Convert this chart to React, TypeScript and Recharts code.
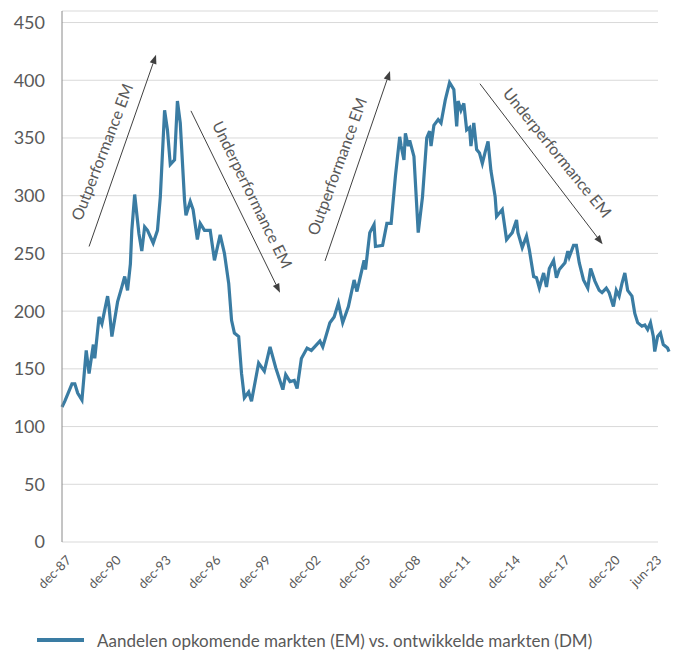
import React from 'react';
import { LineChart, Line, XAxis, YAxis, CartesianGrid, ReferenceLine, ReferenceDot } from 'recharts';

// Month index counted from dec-87 (0) to jun-23 (426)
const months = [
  0, 2, 7, 9, 11, 14, 17, 19, 22, 23, 26, 28, 29, 32, 33, 35, 39, 42, 44, 46,
  48, 49, 51, 54, 56, 58, 60, 64, 67, 69, 72, 74, 76, 79, 81, 83, 86, 87, 90, 92,
  95, 97, 100, 104, 107, 111, 114, 117, 119, 121, 124, 126, 128, 131, 133, 138, 142, 146, 150, 155,
  157, 160, 163, 165, 168, 172, 175, 181, 183, 188, 191, 194, 197, 201, 205, 207, 212, 213, 216, 219,
  220, 225, 228, 231, 234, 237, 238, 240, 241, 243, 244, 247, 250, 253, 256, 258, 259, 261, 264, 266,
  269, 272, 275, 277, 278, 280, 282, 284, 286, 287, 289, 291, 293, 295, 297, 299, 301, 304, 305, 309,
  312, 316, 319, 320, 323, 326, 328, 331, 333, 335, 338, 340, 342, 345, 347, 349, 353, 355, 356, 359,
  361, 363, 366, 369, 371, 374, 377, 379, 382, 384, 387, 389, 391, 393, 395, 397, 400, 402, 404, 407,
  409, 411, 413, 415, 416, 418, 420, 422, 425, 426,
];

const emVsDm = [
  117, 122, 137, 137, 129, 123, 166, 146, 171, 159, 195, 189, 195, 213, 204, 178, 208, 221, 230, 218,
  241, 270, 301, 267, 252, 273, 270, 259, 270, 299, 374, 357, 327, 331, 382, 363, 296, 283, 295, 288,
  262, 276, 270, 270, 244, 266, 250, 224, 192, 181, 178, 146, 125, 130, 122, 155, 148, 169, 151, 132,
  145, 139, 140, 133, 159, 168, 166, 174, 169, 190, 195, 207, 190, 204, 227, 217, 244, 236, 268, 275,
  256, 257, 276, 276, 317, 351, 343, 331, 354, 343, 348, 334, 268, 299, 350, 356, 343, 361, 366, 363,
  383, 398, 392, 360, 382, 374, 380, 357, 359, 343, 363, 340, 337, 328, 338, 347, 322, 299, 282, 288,
  262, 268, 279, 268, 255, 265, 253, 230, 229, 220, 233, 221, 237, 244, 229, 236, 242, 252, 247, 257,
  257, 242, 227, 220, 237, 226, 218, 216, 220, 216, 204, 218, 213, 224, 233, 218, 213, 198, 190, 187,
  188, 184, 190, 178, 165, 178, 181, 171, 168, 165,
];

const xTickMonths = [0, 36, 72, 108, 144, 180, 216, 252, 288, 324, 360, 396, 426];
const xTickLabels = ['dec-87', 'dec-90', 'dec-93', 'dec-96', 'dec-99', 'dec-02', 'dec-05', 'dec-08', 'dec-11', 'dec-14', 'dec-17', 'dec-20', 'jun-23'];
const yTicks = [0, 50, 100, 150, 200, 250, 300, 350, 400, 450];

// Annotation arrows in data coordinates [month, value]
const arrowStarts = [[19, 256], [90.5, 373.5], [184.6, 243.5], [293.3, 397]];
const arrowEnds = [[66, 422], [153, 216], [230.2, 408], [379.4, 258]];
const annotationTexts = ['Outperformance EM', 'Underperformance EM', 'Outperformance EM', 'Underperformance EM'];
const annotationAnchors = [[27.7, 338], [134, 301], [192.6, 325.5], [348, 337.6]];
const annotationAngles = [-69, 64, -70, 51];

const seriesName = 'Aandelen opkomende markten (EM) vs. ontwikkelde markten (DM)';

const data = months.map((m, i) => ({ m, v: emVsDm[i] }));

const FONT = 'Lato, "Open Sans", sans-serif';
const TEXT = '#595959';
const LINE = '#3a7ca3';

const XTick = (props: any) => {
  const { x, y, payload } = props;
  const idx = xTickMonths.indexOf(payload.value);
  const dx = 10 - 0.039 * payload.value;
  const tx = x + dx;
  const ty = y + 19;
  return (
    <text x={tx} y={ty} textAnchor="end" transform={`rotate(-45 ${tx} ${ty})`} fontSize={13} fill={TEXT} fontFamily={FONT}>
      {xTickLabels[idx]}
    </text>
  );
};

const ArrowShape = (p: any) => {
  const { x1, y1, x2, y2 } = p;
  const ang = Math.atan2(y2 - y1, x2 - x1);
  const L = 9;
  const W = 3.5;
  const bx = x2 - L * Math.cos(ang);
  const by = y2 - L * Math.sin(ang);
  const px = -Math.sin(ang) * W;
  const py = Math.cos(ang) * W;
  return (
    <g>
      <line x1={x1} y1={y1} x2={bx} y2={by} stroke="#404040" strokeWidth={1} />
      <polygon points={`${x2},${y2} ${bx + px},${by + py} ${bx - px},${by - py}`} fill="#404040" />
    </g>
  );
};

const makeTextShape = (label: string, angle: number) => (p: any) => {
  const { cx, cy } = p;
  return (
    <text x={cx} y={cy} textAnchor="middle" dominantBaseline="central" transform={`rotate(${angle} ${cx} ${cy})`} fontSize={16} fill={TEXT} fontFamily={FONT}>
      {label}
    </text>
  );
};

export default function App() {
  return (
    <div style={{ position: 'absolute', left: 0, top: 0, width: 678, height: 650, background: '#fff' }}>
      <LineChart width={678} height={650} data={data} margin={{ top: 11, right: 9, bottom: 48, left: 0 }}>
        <CartesianGrid vertical={false} stroke="#d9d9d9" width={596} />
        <XAxis
          dataKey="m"
          type="number"
          domain={[0, 426]}
          ticks={xTickMonths}
          tick={<XTick />}
          tickLine={false}
          axisLine={false}
          tickSize={0}
          tickMargin={0}
          height={60}
          interval={0}
        />
        <YAxis
          type="number"
          domain={[0, 460]}
          ticks={yTicks}
          width={62}
          tickLine={false}
          tickSize={6}
          tickMargin={11}
          axisLine={{ stroke: '#8a8a8a', strokeWidth: 1 }}
          tick={{ fontSize: 18, fill: TEXT, fontFamily: FONT }}
          interval={0}
        />
        {arrowStarts.map((s, i) => (
          <ReferenceLine
            key={`arr${i}`}
            segment={[{ x: s[0], y: s[1] }, { x: arrowEnds[i][0], y: arrowEnds[i][1] }]}
            ifOverflow="visible"
            shape={ArrowShape}
          />
        ))}
        {annotationAnchors.map((a, i) => (
          <ReferenceDot
            key={`txt${i}`}
            x={a[0]}
            y={a[1]}
            r={0}
            ifOverflow="visible"
            shape={makeTextShape(annotationTexts[i], annotationAngles[i])}
          />
        ))}
        <Line
          type="linear"
          dataKey="v"
          stroke={LINE}
          strokeWidth={3.2}
          dot={false}
          activeDot={false}
          isAnimationActive={false}
          name={seriesName}
        />
      </LineChart>
      <div style={{ position: 'absolute', left: 37, top: 628, display: 'flex', alignItems: 'center', fontFamily: FONT, fontSize: 17, color: TEXT, whiteSpace: 'nowrap' }}>
        <svg width={47} height={24} style={{ display: 'block' }}>
          <line x1={0} y1={12} x2={47} y2={12} stroke={LINE} strokeWidth={4} />
        </svg>
        <span style={{ marginLeft: 13 }}>{seriesName}</span>
      </div>
    </div>
  );
}
